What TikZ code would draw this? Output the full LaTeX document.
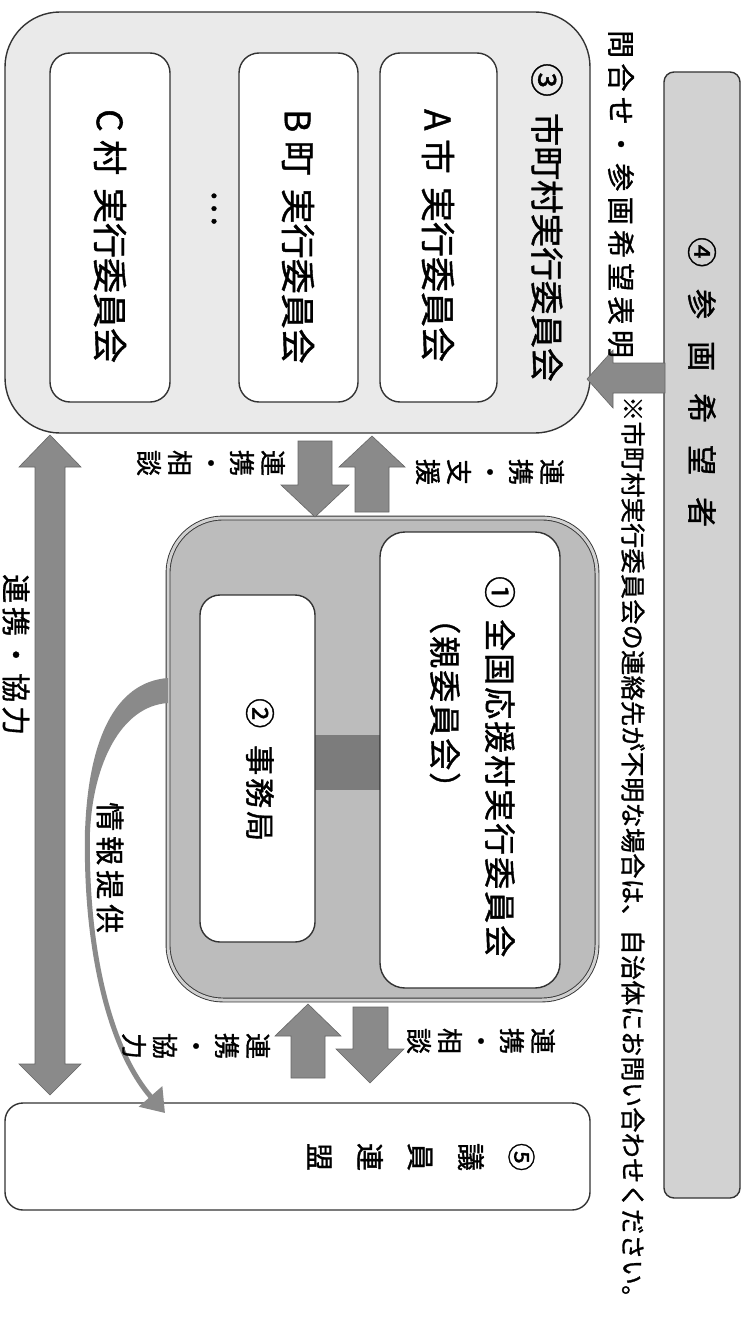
\documentclass[tikz,border=0pt]{standalone}
\usepackage{fontspec}
\setmainfont{Noto Sans CJK JP}[FakeBold=1.2]
\usetikzlibrary{arrows.meta}
\makeatletter
\newcommand\trk[2]{\def\trk@sp{\hspace{#1}}\@tfor\trk@c:=#2\do{\trk@c\trk@sp}\unskip}
\makeatother
\definecolor{boxdark}{HTML}{333333}
\definecolor{lightfill}{HTML}{EAEAEA}
\definecolor{barfill}{HTML}{D2D2D2}
\definecolor{midfill}{HTML}{BCBCBC}
\definecolor{ringfill}{HTML}{D0D0D0}
\definecolor{arrowfill}{HTML}{8A8A8A}
\definecolor{arrowedge}{HTML}{666666}
\definecolor{darkbar}{HTML}{7C7C7C}
\tikzset{
  txt/.style={inner sep=0pt, rotate=-90, anchor=west, text=black},
  col/.style={inner sep=0pt, rotate=-90, align=center, text=black},
  roundbox/.style={draw=boxdark, line width=1.4pt, rectangle},
  whitebox/.style={roundbox, fill=white},
  blockarrow/.style={fill=arrowfill, draw=arrowedge, line width=0.6pt},
  lbl/.style={font=\fontsize{26}{31}\selectfont},
}
\begin{document}
\begin{tikzpicture}[x=1pt,y=-1pt]
\useasboundingbox (0,0) rectangle (745,1319);
\fill[white] (0,0) rectangle (745,1319);

% (3) municipal committees
\node[roundbox, fill=lightfill, rounded corners=55pt, minimum width=585pt, minimum height=421pt] (mun) at (297.5,222.5) {};
\node[whitebox, rounded corners=20pt, minimum width=117pt, minimum height=349pt] (boxA) at (438.5,227.5) {};
\node[whitebox, rounded corners=20pt, minimum width=119pt, minimum height=349pt] (boxB) at (298.5,227.5) {};
\node[whitebox, rounded corners=20pt, minimum width=120pt, minimum height=349pt] (boxC) at (110,227.5) {};

% (4) bar
\node[roundbox, fill=barfill, rounded corners=10pt, minimum width=76pt, minimum height=1126pt] (bar) at (702,635) {};

% arrow (4) -> (3)
\filldraw[blockarrow] (665,363) -- (613,363) -- (613,350) -- (587,379) -- (613,408) -- (613,393) -- (665,393) -- cycle;

% (1) national committee
\node[draw=boxdark, line width=0.9pt, double=ringfill, double distance=3pt, fill=midfill, rounded corners=55pt, minimum width=429pt, minimum height=482pt] (natl) at (382.5,759) {};
\node[fill=darkbar, inner sep=0pt, minimum width=70pt, minimum height=55pt] (link) at (347.5,762.5) {};
\node[whitebox, rounded corners=25pt, minimum width=180pt, minimum height=456pt] (inner1) at (470,760) {};
\node[whitebox, rounded corners=20pt, minimum width=115pt, minimum height=347pt] (office) at (257.5,768.5) {};

% arrows between (3) and (1)
\filldraw[blockarrow] (298,441) -- (332,441) -- (332,485) -- (349,485) -- (315,517) -- (281,485) -- (298,485) -- cycle;
\filldraw[blockarrow] (355,512) -- (389,512) -- (389,467) -- (405,467) -- (372,436) -- (339,467) -- (355,467) -- cycle;

% arrows between (1) and (5)
\filldraw[blockarrow] (291,1078) -- (325,1078) -- (325,1036) -- (341,1036) -- (308,1004) -- (275,1036) -- (291,1036) -- cycle;
\filldraw[blockarrow] (353,1007) -- (388,1007) -- (388,1049) -- (404,1049) -- (370,1083) -- (336,1049) -- (353,1049) -- cycle;

% long double arrow (3) <-> (5)
\filldraw[blockarrow] (50,435) -- (81,467) -- (65,467) -- (65,1064) -- (81,1064) -- (50,1095) -- (19,1064) -- (35,1064) -- (35,467) -- (19,467) -- cycle;

% (5) league
\node[whitebox, rounded corners=18pt, minimum width=585pt, minimum height=107pt] (league) at (297.5,1156.5) {};

% curved arrow (info)
\fill[arrowfill] (168,678) .. controls (114,682) and (88,742) .. (85,832) -- (90,832) .. controls (93,764) and (121,706) .. (168,703) -- cycle;
\draw[arrowfill, line width=5pt, -{Triangle[length=22pt,width=30pt]}] (87.5,830) .. controls (85,950) and (110,1050) .. (165,1113);

% texts
\node[txt, font=\fontsize{33.6}{40}\selectfont] (t3) at (547,63) {③\hspace{16pt}市町村実行委員会};
\node[txt, font=\fontsize{35}{40}\selectfont] (tA) at (438,109) {A\hspace{8.5pt}市\hspace{13pt}実行委員会};
\node[txt, font=\fontsize{35}{40}\selectfont] (tB) at (298,109) {B\hspace{8.5pt}町\hspace{13pt}実行委員会};
\node[txt, font=\fontsize{35}{40}\selectfont] (tC) at (110,109) {C\hspace{8.5pt}村\hspace{13pt}実行委員会};
\node[inner sep=0pt, rotate=-90, font=\fontsize{34}{38}\selectfont] (dots) at (214,208) {…};
\node[txt, font=\fontsize{28}{32}\selectfont] (tq) at (621,30) {\trk{5.3pt}{問合せ・参画希望表明}};
\node[txt, font=\fontsize{25}{30}\selectfont] (tn) at (633,396) {\trk{0.4pt}{※市町村実行委員会の連絡先が不明な場合は、自治体にお問い合わせください。}};
\node[txt, font=\fontsize{30}{34}\selectfont] (t4) at (702,237) {\trk{22pt}{④参画希望者}};
\node[txt, font=\fontsize{32}{36}\selectfont] (t1) at (500,576) {①\hspace{11pt}\trk{2pt}{全国応援村実行委員会}};
\node[txt, font=\fontsize{32}{36}\selectfont] (t1b) at (445,602) {\trk{2pt}{（親委員会）}};
\node[txt, font=\fontsize{30}{34}\selectfont] (t2) at (260,698) {②\hspace{17pt}\trk{3pt}{事務局}};
\node[txt, font=\fontsize{29}{33}\selectfont] (tinfo) at (110,802) {\trk{5pt}{情報提供}};
\node[txt, font=\fontsize{29}{33}\selectfont] (tcoop) at (16,574) {\trk{4pt}{連携・協力}};

\node[col, lbl] (l1) at (490,472) {連\\携\\・\\支\\援};
\node[col, lbl] (l2) at (211,463) {連\\携\\・\\相\\談};
\node[col, lbl] (l3) at (481,1041) {連\\携\\・\\相\\談};
\node[col, lbl] (l4) at (196,1046) {連\\携\\・\\協\\力};
\node[col, font=\fontsize{28}{50.5}\selectfont] (l5) at (421,1157) {⑤\\議\\員\\連\\盟};
\end{tikzpicture}
\end{document}
